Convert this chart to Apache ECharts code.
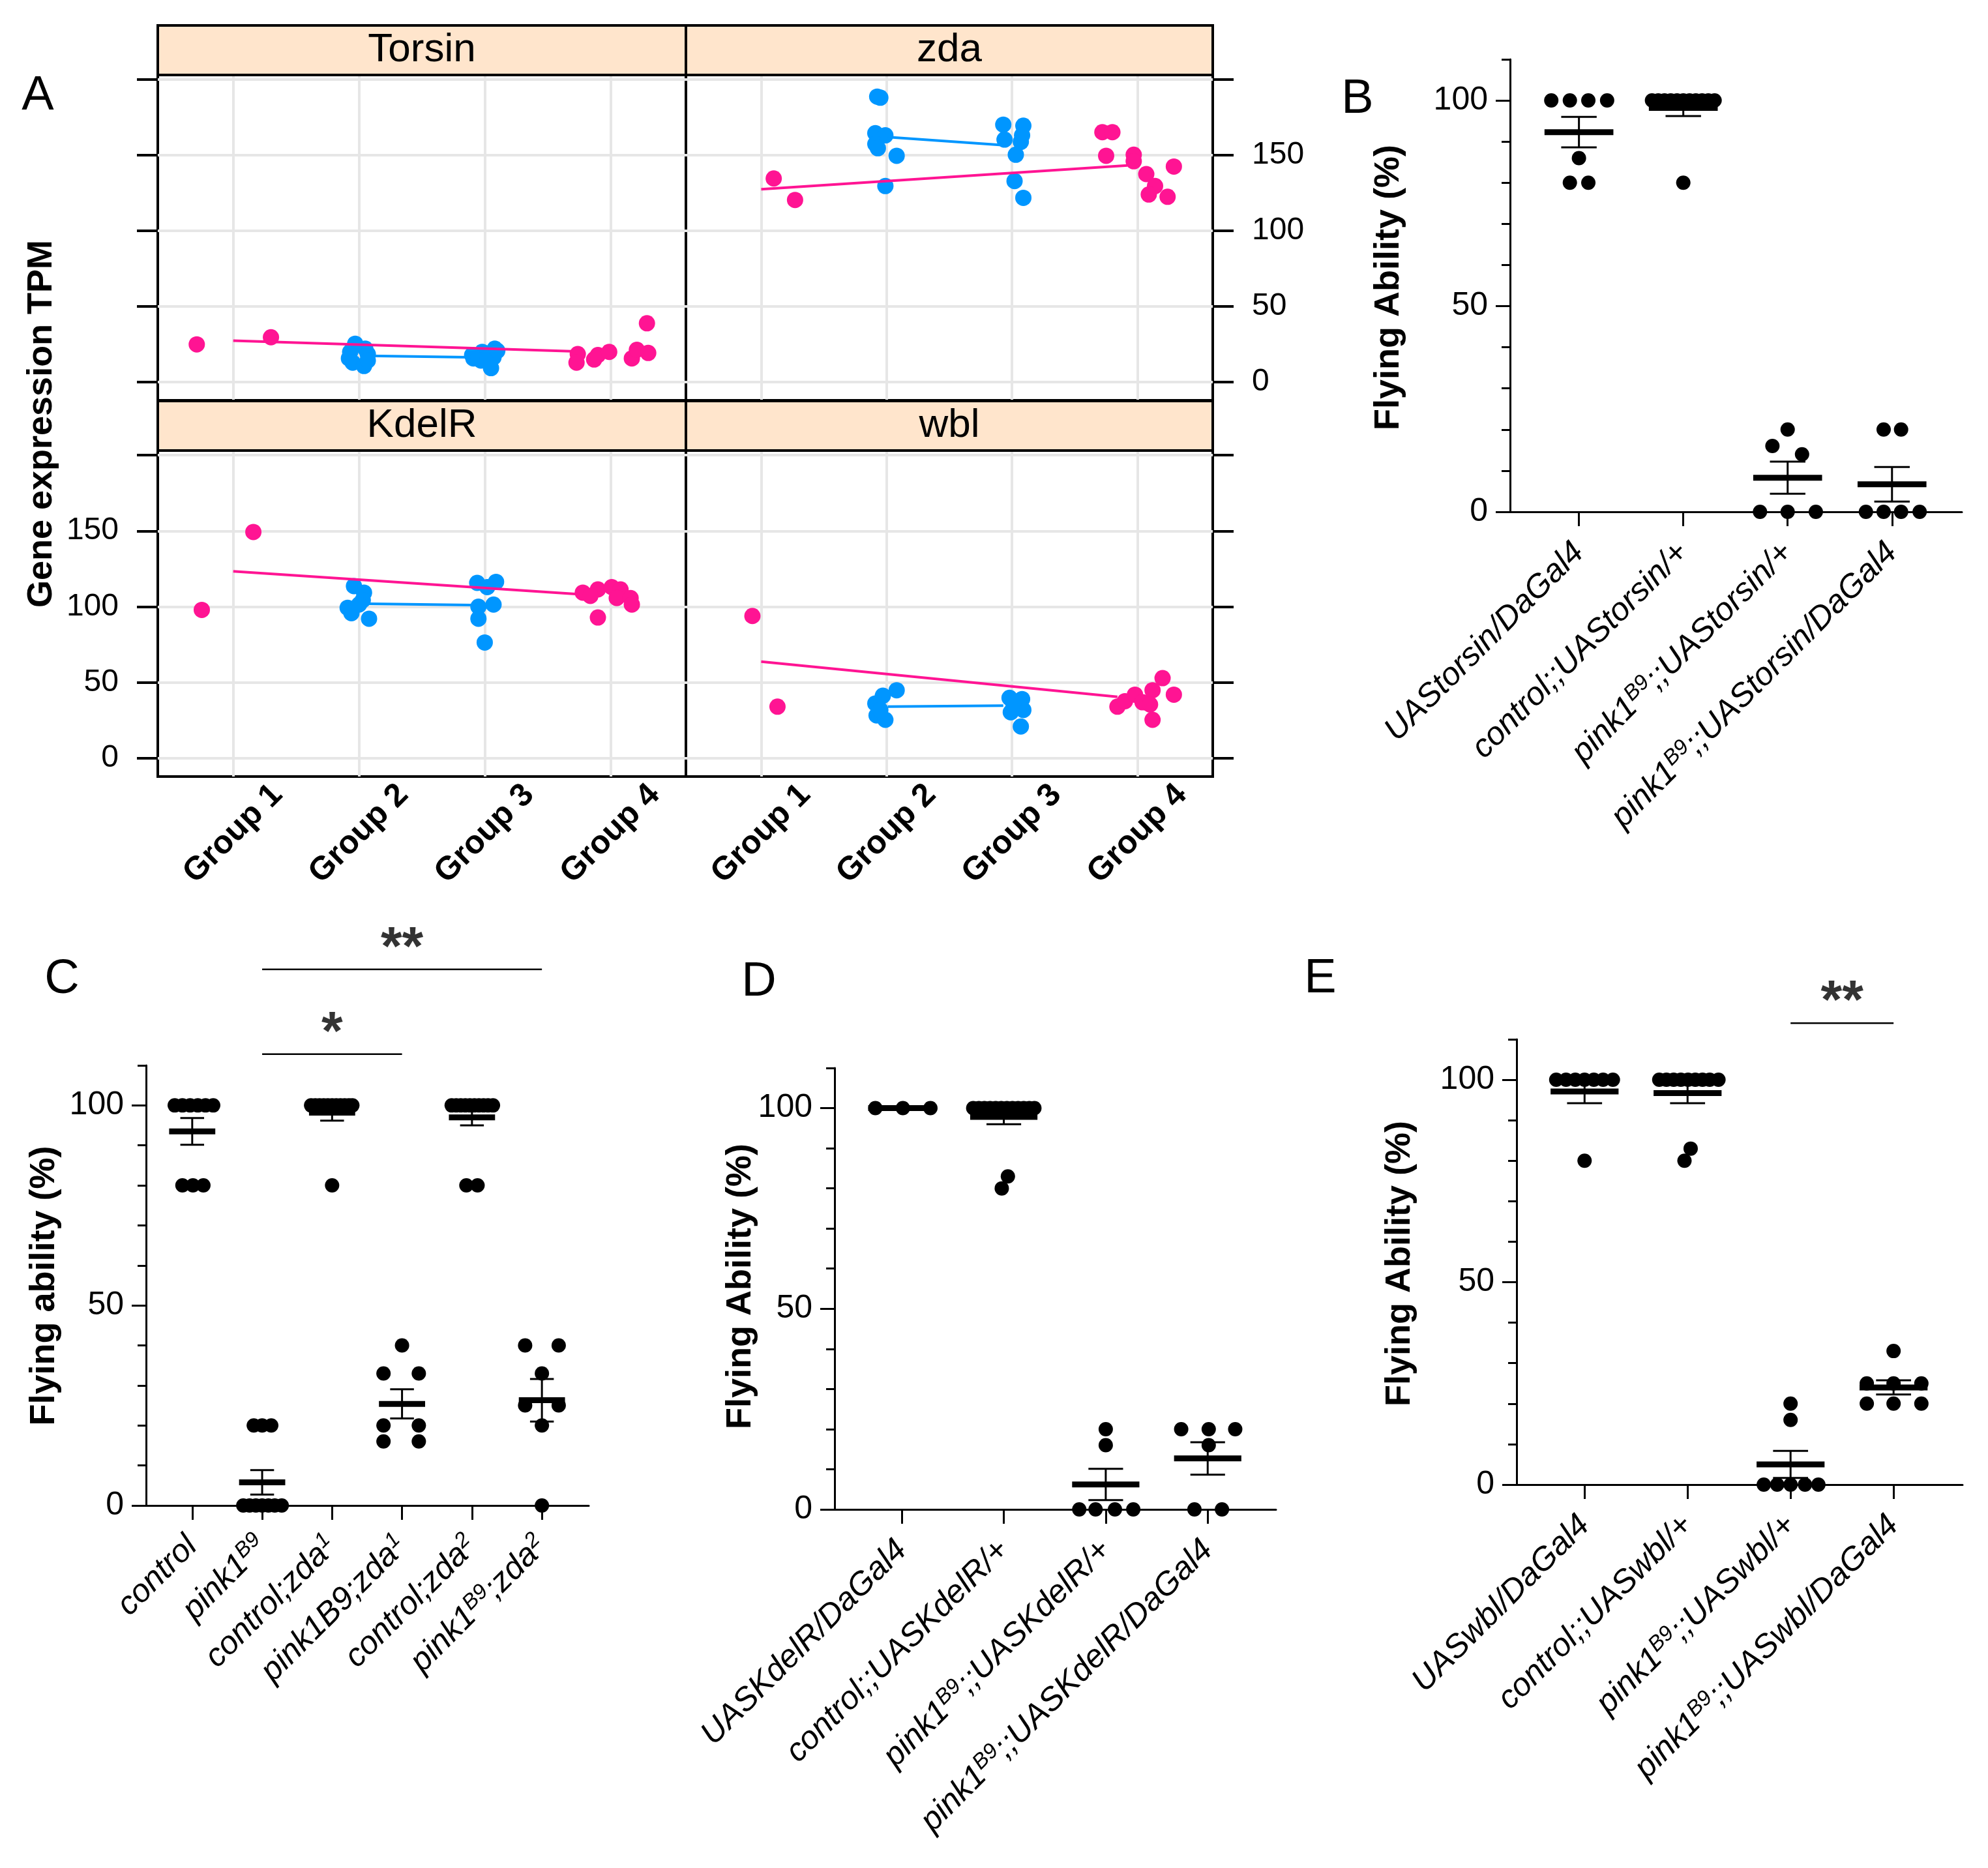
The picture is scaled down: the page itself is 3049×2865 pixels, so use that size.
<!DOCTYPE html>
<html><head><meta charset="utf-8">
<script src="https://cdn.jsdelivr.net/npm/echarts@6/dist/echarts.min.js"></script>
<style>html,body{margin:0;padding:0;background:#fff}#c{width:3049px;height:2865px}</style>
</head><body><div id="c"></div>
<script>
// ================= DATA =================
// ---- Panel A (lattice facets) ----
const aGroupLabels = ['Group 1','Group 2','Group 3','Group 4'];
const aFacetNames = ['Torsin','zda','KdelR','wbl'];
const aYTicks = [0,50,100,150,200];
const aYLabels = [0,50,100,150];
// points: [group position as drawn (jittered), TPM]
const torsinPink = [[0.71,25],[1.30,29.7],[3.74,18.6],[3.73,12.9],[3.87,15],[3.90,17.9],[3.99,20],[4.17,15.7],[4.21,21.4],[4.30,19.3],[4.29,38.9]];
const torsinBlue = [[1.97,25.4],[2.05,22.1],[1.93,20],[2.07,18.6],[1.92,15.7],[1.95,12.9],[2.04,10.7],[2.07,14.3],[3.08,22.1],[2.98,20],[2.91,15.7],[2.97,14.3],[3.07,16.4],[3.05,9.3],[2.90,17.9],[3.10,20.7]];
const torsinPinkLine = [[1,27.4],[3.69,20.4]];
const torsinBlueLine = [[2.07,17.4],[2.89,16.4]];

const zdaPink = [[1.10,134.6],[1.27,120.4],[3.72,165.2],[3.80,165.2],[3.75,149.6],[3.97,150.3],[3.97,146],[4.07,137.5],[4.14,129.6],[4.09,124],[4.24,122.5],[4.29,142.5]];
const zdaBlue = [[1.925,188.7],[1.95,188],[1.91,164.5],[1.99,163.1],[1.91,157.4],[1.93,154.6],[2.08,149.6],[1.99,129.6],[2.93,170.2],[3.09,169.5],[3.08,163.1],[2.94,160.3],[3.07,158.8],[3.03,150.3],[3.02,132.9],[3.09,121.8]];
const zdaPinkLine = [[1,127.5],[3.92,143.2]];
const zdaBlueLine = [[2.01,162],[2.92,156.7]];

const kdelrPink = [[0.75,97.9],[1.16,149.3],[3.78,109.3],[3.90,111.4],[4.01,112.9],[4.08,111.4],[4.05,105.7],[4.16,105.7],[4.17,101.4],[3.90,92.9],[3.84,107.1]];
const kdelrBlue = [[1.96,113.6],[2.04,109.3],[2.03,104.3],[1.91,99.3],[1.94,95.7],[2.08,92.1],[2.00,101.4],[2.94,115.7],[3.09,116.4],[3.02,112.9],[3.07,101.4],[2.95,100],[2.95,92.1],[3.00,76.4]];
const kdelrPinkLine = [[1,123.3],[3.74,108.3]];
const kdelrBlueLine = [[2.07,101.9],[2.90,101.1]];

const wblPink = [[0.93,93.9],[1.13,34.1],[3.84,34.1],[3.90,37.7],[3.98,42],[4.04,37],[4.12,44.9],[4.10,35.5],[4.20,52.9],[4.29,42],[4.12,25.4]];
const wblBlue = [[2.08,44.9],[1.97,41.3],[1.91,36.2],[1.92,28.3],[1.99,25.4],[1.95,31.9],[2.98,39.9],[3.08,39.1],[2.99,30.4],[3.09,31.9],[3.07,21],[3.01,36.2]];
const wblPinkLine = [[1,63.8],[3.84,40.6]];
const wblBlueLine = [[2.01,34.1],[2.93,34.8]];

// ---- Panel B ----
const bLabels = ['UAStorsin/DaGal4','control;;UAStorsin/+','pink1^{B9};;UAStorsin/+','pink1^{B9};;UAStorsin/DaGal4'];
const bValues = [[100,100,100,100,86,80,80],[100,100,100,100,100,100,100,100,100,100,100,80],[20,16,14,0,0,0],[20,20,0,0,0,0]];
const bOffsets = [[-0.265,-0.087,0.09,0.27,0,-0.087,0.09],[-0.3,-0.24,-0.18,-0.12,-0.06,0,0.06,0.12,0.18,0.24,0.3,0],[0,-0.146,0.138,-0.265,0,0.27],[-0.08,0.087,-0.25,-0.08,0.087,0.265]];
const bMean = [92.3,98.2,8.3,6.7];
const bSem = [3.7,2.0,3.9,4.2];

// ---- Panel C ----
const cLabels = ['control','pink1^{B9}','control;zda^{1}','pink1B9;zda^{1}','control;zda^{2}','pink1^{B9};zda^{2}'];
const cValues = [[100,100,100,100,100,100,80,80,80],[20,20,20,0,0,0,0,0,0,0],[100,100,100,100,100,100,100,100,100,100,100,80],[40,33,33,20,20,16,16],[100,100,100,100,100,100,100,100,100,100,80,80],[40,40,33,25,25,20,0]];
const cOffsets = [[-0.25,-0.14,-0.03,0.08,0.19,0.3,-0.14,0.01,0.16],[-0.12,0,0.13,-0.27,-0.18,-0.09,0,0.09,0.18,0.28],[-0.3,-0.24,-0.18,-0.12,-0.06,0,0.06,0.12,0.18,0.24,0.29,0],[0,-0.265,0.24,-0.265,0.24,-0.265,0.24],[-0.29,-0.225,-0.16,-0.095,-0.03,0.035,0.1,0.165,0.23,0.3,-0.08,0.08],[-0.24,0.24,0,-0.24,0.24,0,0]];
const cMean = [93.5,5.8,98.2,25.4,97.0,26.3];
const cSem = [3.35,3.05,2.0,3.65,2.0,5.3];
const cSigFrom = [2,2], cSigTo = [4,6], cSigY = [112.8,134], cSigText = ['*','**'];

// ---- Panel D ----
const dLabels = ['UASKdelR/DaGal4','control;;UASKdelR/+','pink1^{B9};;UASKdelR/+','pink1^{B9};;UASKdelR/DaGal4'];
const dValues = [[100,100,100],[100,100,100,100,100,100,100,100,100,100,100,100,83,80],[20,16,0,0,0,0],[20,20,20,16,0,0]];
const dOffsets = [[-0.26,0.01,0.28],[-0.3,-0.245,-0.19,-0.135,-0.08,-0.025,0.03,0.085,0.14,0.195,0.25,0.3,0.04,-0.02],[0,0,-0.26,-0.1,0.09,0.27],[-0.26,0.01,0.27,0.01,-0.13,0.14]];
const dMean = [100,97.8,6.2,12.7];
const dSem = [0,1.8,3.9,4.05];

// ---- Panel E ----
const eLabels = ['UASwbl/DaGal4','control;;UASwbl/+','pink1^{B9};;UASwbl/+','pink1^{B9};;UASwbl/DaGal4'];
const eValues = [[100,100,100,100,100,100,100,80],[100,100,100,100,100,100,100,100,100,83,80],[20,16,0,0,0,0,0],[33,25,25,25,20,20,20]];
const eOffsets = [[-0.275,-0.18,-0.09,0,0.09,0.18,0.275,0],[-0.275,-0.205,-0.135,-0.065,0.005,0.075,0.145,0.215,0.3,0.03,-0.03],[0,0,-0.26,-0.13,0,0.14,0.27],[0,-0.26,0,0.27,-0.26,0,0.27]];
const eMean = [97.1,96.7,5.0,24.0];
const eSem = [2.9,2.5,3.35,1.75];
const eSigFrom = [3], eSigTo = [4], eSigY = [114], eSigText = ['**'];

// ================= STYLE / LAYOUT =================
const FF = "'Liberation Sans', Arial, Helvetica, sans-serif";
const PINK = '#FF1493', BLUE = '#0096FF', GRIDC = '#E6E6E6';

const facets = [
  {name: aFacetNames[0], pink: torsinPink, blue: torsinBlue, pl: torsinPinkLine, bl: torsinBlueLine},
  {name: aFacetNames[1], pink: zdaPink, blue: zdaBlue, pl: zdaPinkLine, bl: zdaBlueLine},
  {name: aFacetNames[2], pink: kdelrPink, blue: kdelrBlue, pl: kdelrPinkLine, bl: kdelrBlueLine},
  {name: aFacetNames[3], pink: wblPink, blue: wblBlue, pl: wblPinkLine, bl: wblBlueLine}
];
const aBoxes = [
  {left:242, top:115, width:810, height:499, yPos:'left', yLab:false, xLab:false},
  {left:1052, top:115, width:808, height:499, yPos:'right', yLab:true, xLab:false},
  {left:242, top:691, width:810, height:500, yPos:'left', yLab:true, xLab:true},
  {left:1052, top:691, width:808, height:500, yPos:'right', yLab:false, xLab:true}
];
const stripH = 76;

const panels = [
  {labels:bLabels, values:bValues, offsets:bOffsets, mean:bMean, sem:bSem, box:{left:2316, top:91, width:693, height:694}},
  {labels:cLabels, values:cValues, offsets:cOffsets, mean:cMean, sem:cSem, box:{left:224, top:1634, width:679, height:675},
   sig:{from:cSigFrom, to:cSigTo, y:cSigY, text:cSigText}},
  {labels:dLabels, values:dValues, offsets:dOffsets, mean:dMean, sem:dSem, box:{left:1280, top:1638, width:677, height:677}},
  {labels:eLabels, values:eValues, offsets:eOffsets, mean:eMean, sem:eSem, box:{left:2326, top:1594, width:684, height:683},
   sig:{from:eSigFrom, to:eSigTo, y:eSigY, text:eSigText}}
];

const RICH = {
  n: {fontFamily: FF, fontSize: 50, fontStyle: 'italic', color: '#000'},
  s: {fontFamily: FF, fontSize: 33, fontStyle: 'italic', color: '#000', verticalAlign: 'top', padding: [0,0,22,0]}
};
function richLabel(s){
  return s.split(/(\^\{[^}]*\})/).filter(t => t).map(t =>
    t.startsWith('^{') ? '{s|' + t.slice(2,-1) + '}' : '{n|' + t + '}').join('');
}

const grid = [], xAxis = [], yAxis = [], series = [], graphic = [];

// ---- Panel A ----
facets.forEach((f, k) => {
  const b = aBoxes[k];
  grid.push({left:b.left, top:b.top, width:b.width, height:b.height, show:true,
    borderColor:'#000', borderWidth:4, backgroundColor:'#fff', outerBoundsMode:'none'});
  xAxis.push({type:'value', gridIndex:k, min:0.4, max:4.6,
    axisLine:{show:false, onZero:false},
    axisTick:{show:false, customValues:[1,2,3,4]},
    axisLabel:{show:b.xLab, customValues:[1,2,3,4], formatter: v => aGroupLabels[Math.round(v)-1],
      rotate:45, align:'center', verticalAlign:'middle', margin:88,
      fontFamily:FF, fontSize:50, fontWeight:'bold', color:'#000'},
    splitLine:{show:true, lineStyle:{color:GRIDC, width:4}}});
  yAxis.push({type:'value', gridIndex:k, min:-12, max:203, position:b.yPos,
    axisLine:{show:false, onZero:false},
    axisTick:{show:true, customValues:aYTicks, length:32, lineStyle:{color:'#000', width:4}},
    axisLabel:{show:b.yLab, customValues:aYLabels, margin:60, fontFamily:FF, fontSize:48, color:'#000'},
    splitLine:{show:true, lineStyle:{color:GRIDC, width:4}}});
  series.push({type:'scatter', xAxisIndex:k, yAxisIndex:k, data:f.pink, symbolSize:25,
    itemStyle:{color:PINK, opacity:1}, z:3, silent:true});
  series.push({type:'scatter', xAxisIndex:k, yAxisIndex:k, data:f.blue, symbolSize:25,
    itemStyle:{color:BLUE, opacity:1}, z:3, silent:true});
  series.push({type:'line', xAxisIndex:k, yAxisIndex:k, data:f.bl, showSymbol:false, symbol:'none',
    lineStyle:{color:BLUE, width:4}, z:4, silent:true});
  series.push({type:'line', xAxisIndex:k, yAxisIndex:k, data:f.pl, showSymbol:false, symbol:'none',
    lineStyle:{color:PINK, width:4}, z:4, silent:true});
  graphic.push({type:'rect', shape:{x:b.left, y:b.top - stripH, width:b.width, height:stripH},
    style:{fill:'#FFE5CC', stroke:'#000', lineWidth:4}, z:10});
  graphic.push({type:'text', x:b.left + b.width/2, y:b.top - stripH/2, z:11,
    style:{text:f.name, fontFamily:FF, fontSize:62, fill:'#000', align:'center', verticalAlign:'middle'}});
});

// ---- Panels B-E ----
function meanSemItem(params, api){
  const x = api.value(0), m = api.value(1), s = api.value(2);
  const pM = api.coord([x, m]);
  const xl = api.coord([x-0.33, m])[0], xr = api.coord([x+0.33, m])[0];
  const cl = api.coord([x-0.17, m])[0], cr = api.coord([x+0.17, m])[0];
  const yT = api.coord([x, m+s])[1], yB = api.coord([x, m-s])[1];
  const st = {stroke:'#000', lineWidth:3};
  return {type:'group', children:[
    {type:'line', shape:{x1:pM[0], y1:yT, x2:pM[0], y2:yB}, style:st},
    {type:'line', shape:{x1:cl, y1:yT, x2:cr, y2:yT}, style:st},
    {type:'line', shape:{x1:cl, y1:yB, x2:cr, y2:yB}, style:st},
    {type:'line', shape:{x1:xl, y1:pM[1], x2:xr, y2:pM[1]}, style:{stroke:'#000', lineWidth:9}}
  ]};
}

panels.forEach((p, j) => {
  const gi = 4 + j;
  const n = p.labels.length;
  const idx = p.labels.map((_, i) => i + 1);
  grid.push(Object.assign({show:false, outerBoundsMode:'none'}, p.box));
  xAxis.push({type:'value', gridIndex:gi, min:0.34, max:n + 0.67,
    axisLine:{show:true, onZero:false, lineStyle:{color:'#000', width:3}},
    axisTick:{show:true, customValues:idx, length:22, lineStyle:{color:'#000', width:3}},
    axisLabel:{show:true, customValues:idx, rotate:45, margin:55,
      formatter: v => richLabel(p.labels[Math.round(v)-1]), rich:RICH,
      fontFamily:FF, fontSize:50, fontStyle:'italic', color:'#000'},
    splitLine:{show:false}});
  const yMain = yAxis.length;
  yAxis.push({type:'value', gridIndex:gi, min:0, max:110, position:'left',
    axisLine:{show:true, onZero:false, lineStyle:{color:'#000', width:3}},
    axisTick:{show:true, customValues:[0,50,100], length:22, lineStyle:{color:'#000', width:3}},
    axisLabel:{show:true, customValues:[0,50,100], margin:34, fontFamily:FF, fontSize:50, color:'#000'},
    splitLine:{show:false}});
  yAxis.push({type:'value', gridIndex:gi, min:0, max:110, position:'left', offset:0,
    axisLine:{show:false, onZero:false},
    axisTick:{show:true, customValues:[10,20,30,40,60,70,80,90,110], length:13, lineStyle:{color:'#000', width:3}},
    axisLabel:{show:false},
    splitLine:{show:false}});
  const pts = [];
  p.values.forEach((arr, i) => arr.forEach((v, q) => pts.push([i + 1 + p.offsets[i][q], v])));
  series.push({type:'scatter', xAxisIndex:gi, yAxisIndex:yMain, data:pts, symbolSize:22,
    itemStyle:{color:'#000', opacity:1}, z:3, silent:true});
  series.push({type:'custom', xAxisIndex:gi, yAxisIndex:yMain,
    data:p.mean.map((m, i) => [i + 1, m, p.sem[i]]), encode:{x:0, y:1},
    renderItem:meanSemItem, z:5, silent:true});
  if (p.sig) {
    p.sig.from.forEach((fr, s) => {
      series.push({type:'line', xAxisIndex:gi, yAxisIndex:yMain, clip:false,
        data:[[fr, p.sig.y[s]], [p.sig.to[s], p.sig.y[s]]], symbol:'none', showSymbol:false,
        lineStyle:{color:'#000', width:2.5}, z:5, silent:true});
      series.push({type:'scatter', xAxisIndex:gi, yAxisIndex:yMain, clip:false,
        data:[[(fr + p.sig.to[s]) / 2, p.sig.y[s]]], symbolSize:0, itemStyle:{color:'rgba(0,0,0,0)'},
        label:{show:true, position:'inside', offset:[0,-30], formatter:p.sig.text[s],
          fontFamily:FF, fontSize:84, fontWeight:'bold', color:'#000'}, z:6, silent:true});
    });
  }
});

// ---- text annotations ----
function txt(t, x, y, size, weight, rot){
  return {type:'text', x:x, y:y, rotation:rot || 0, z:12,
    style:{text:t, fontFamily:FF, fontSize:size, fontWeight:weight || 'normal', fill:'#000',
      align:'center', verticalAlign:'middle'}};
}
graphic.push(txt('A', 58, 148, 74));
graphic.push(txt('B', 2082, 153, 74));
graphic.push(txt('C', 95, 1503, 74));
graphic.push(txt('D', 1164, 1507, 74));
graphic.push(txt('E', 2025, 1502, 74));
graphic.push(txt('Gene expression TPM', 64, 650, 54, 'bold', Math.PI/2));
graphic.push(txt('Flying Ability (%)', 2130, 441, 54, 'bold', Math.PI/2));
graphic.push(txt('Flying ability (%)', 68, 1972, 54, 'bold', Math.PI/2));
graphic.push(txt('Flying Ability (%)', 1136, 1973, 54, 'bold', Math.PI/2));
graphic.push(txt('Flying Ability (%)', 2147, 1938, 54, 'bold', Math.PI/2));

const chart = echarts.init(document.getElementById('c'), null, {renderer:'canvas', width:3049, height:2865});
chart.setOption({
  animation:false,
  backgroundColor:'#fff',
  textStyle:{fontFamily:FF},
  grid, xAxis, yAxis, series, graphic
});
</script></body></html>
